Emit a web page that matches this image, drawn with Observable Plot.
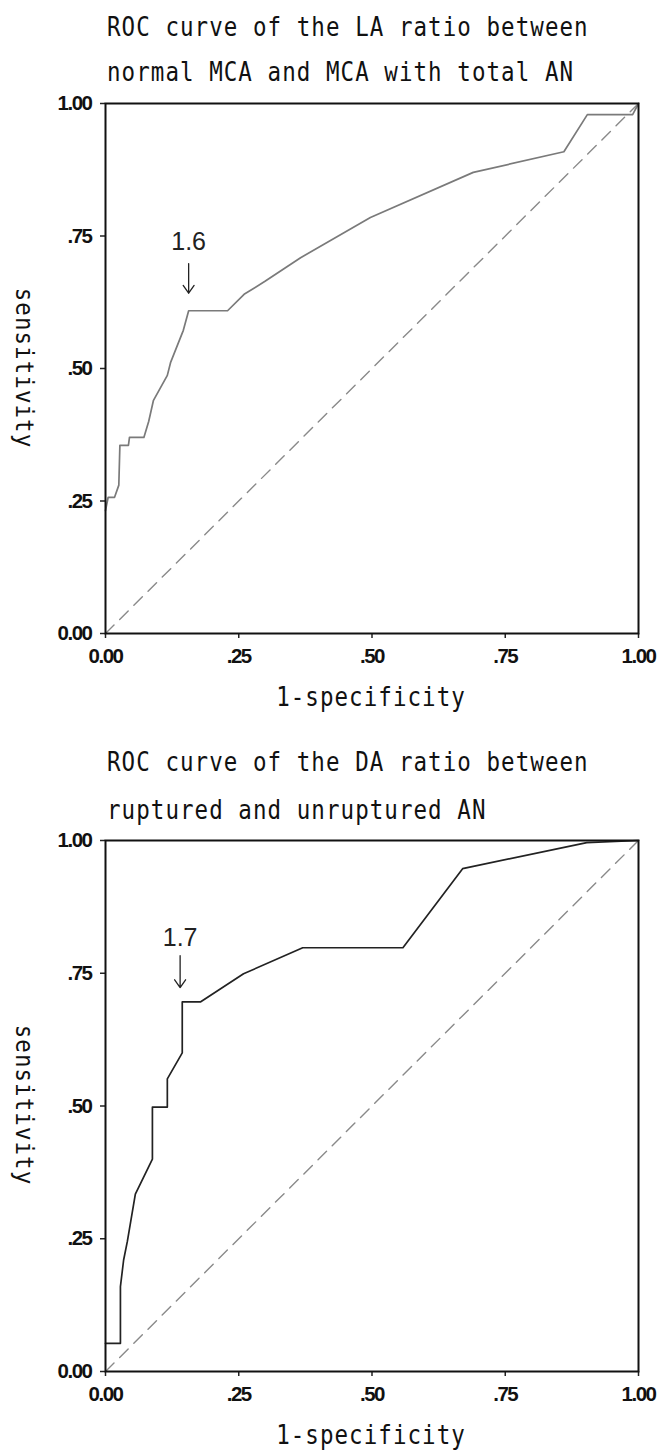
<!DOCTYPE html>
<html><head><meta charset="utf-8">
<script src="https://cdn.jsdelivr.net/npm/d3@7"></script>
<script src="https://cdn.jsdelivr.net/npm/@observablehq/plot@0.6"></script>
<style>
body{margin:0;background:#fff;}
#wrap{position:relative;width:666px;height:1450px;overflow:hidden;background:#fff;}
.t{position:absolute;font-family:"DejaVu Sans Mono",monospace;font-size:22.5px;line-height:22px;letter-spacing:1.05px;color:#111;white-space:nowrap;transform:scaleY(1.15);transform-origin:left center;}
.c{position:absolute;transform:translate(-50%,-50%) scaleY(1.15);transform-origin:center center;}
.r{transform:translate(-50%,-50%) rotate(90deg) scaleY(1.1);transform-origin:center center;}
.chart{position:absolute;left:0;}
</style></head><body><div id="wrap"></div>
<script>
// ---- data ----
const tickValues = [0, 0.25, 0.5, 0.75, 1];
const tickLabels = ["0.00", ".25", ".50", ".75", "1.00"];
const diagX = [0, 1];
const diagY = [0, 1];

// Chart 1: LA ratio
const title1 = ["ROC curve of the LA ratio between", "normal MCA and MCA with total AN"];
const laFpr = [0, 0.005, 0.017, 0.025, 0.027, 0.043, 0.045, 0.072, 0.081, 0.09, 0.116, 0.122, 0.146, 0.156, 0.229, 0.26, 0.30, 0.366, 0.497, 0.69, 0.86, 0.904, 0.989, 1.0];
const laTpr = [0.232, 0.257, 0.257, 0.28, 0.355, 0.355, 0.37, 0.37, 0.40, 0.44, 0.487, 0.511, 0.572, 0.609, 0.609, 0.64, 0.665, 0.709, 0.785, 0.87, 0.909, 0.979, 0.979, 1.0];
const laCut = {label: "1.6", x: 0.156, labelY: 0.738, arrowFrom: 0.698, arrowTo: 0.642};

// Chart 2: DA ratio
const title2 = ["ROC curve of the DA ratio between", "ruptured and unruptured AN"];
const daFpr = [0, 0.028, 0.028, 0.034, 0.041, 0.056, 0.088, 0.088, 0.116, 0.116, 0.144, 0.144, 0.178, 0.259, 0.37, 0.558, 0.67, 0.903, 1.0];
const daTpr = [0.053, 0.053, 0.16, 0.21, 0.245, 0.334, 0.40, 0.498, 0.498, 0.551, 0.60, 0.696, 0.696, 0.749, 0.798, 0.798, 0.947, 0.996, 1.0];
const daCut = {label: "1.7", x: 0.14, labelY: 0.817, arrowFrom: 0.783, arrowTo: 0.723};

const xLabel = "1-specificity";
const yLabel = "sensitivity";

// ---- drawing ----
const wrap = document.getElementById("wrap");
const fmt = d => tickLabels[tickValues.indexOf(d)];

function rocChart(fpr, tpr, stroke, cut, height, marginBottom) {
  const curve = fpr.map((x, i) => ({x, y: tpr[i]}));
  const diag = diagX.map((x, i) => ({x, y: diagY[i]}));
  const svg = Plot.plot({
    width: 666, height,
    marginLeft: 105, marginRight: 28, marginTop: 103, marginBottom,
    x: {domain: [0, 1]},
    y: {domain: [0, 1]},
    style: {fontFamily: "'Liberation Sans', Arial, sans-serif", fontSize: "18px", color: "#222", background: "white", overflow: "visible"},
    marks: [
      Plot.line(diag, {x: "x", y: "y", stroke: "#8a8a8a", strokeWidth: 1.4, strokeDasharray: "12,8"}),
      Plot.line(curve, {x: "x", y: "y", stroke, strokeWidth: 1.7}),
      Plot.axisX({ticks: tickValues, tickFormat: fmt, tickSize: 5, tickPadding: 10, label: null, strokeWidth: 1.5, fill: "#111"}),
      Plot.axisY({ticks: tickValues, tickFormat: fmt, tickSize: 5, tickPadding: 9, label: null, strokeWidth: 1.5, fill: "#111"}),
      Plot.frame({stroke: "#111", strokeWidth: 2}),
      Plot.text([cut], {x: "x", y: "labelY", text: "label", fontSize: 25, fill: "#222"}),
      Plot.arrow([cut], {x1: "x", x2: "x", y1: "arrowFrom", y2: "arrowTo", stroke: "#222", strokeWidth: 1.3, headLength: 11, headAngle: 70})
    ]
  });
  // style the axis tick labels like the reference (heavier, condensed)
  d3.select(svg).selectAll("text").each(function () {
    const g = this.closest("g[aria-label]");
    const lab = g ? g.getAttribute("aria-label") : "";
    if (lab && lab.includes("axis")) {
      d3.select(this).style("font-size", "20.5px").style("font-weight", "bold").style("letter-spacing", "-1.5px");
    } else {
      d3.select(this).style("font-size", "25px");
    }
  });
  return svg;
}

function addText(txt, x, y, cls, center) {
  const d = document.createElement("div");
  d.className = "t " + (cls || "");
  d.textContent = txt;
  d.style.left = x + "px";
  d.style.top = (center ? y : y - 11) + "px";
  wrap.appendChild(d);
}

function addChart(svg, top) {
  svg.classList.add("chart");
  svg.style.position = "absolute";
  svg.style.top = top + "px";
  svg.style.left = "0px";
  wrap.appendChild(svg);
}

addChart(rocChart(laFpr, laTpr, "#7a7a7a", laCut, 720, 87), 0);
addChart(rocChart(daFpr, daTpr, "#222", daCut, 713, 79), 737);

addText(title1[0], 107, 27);
addText(title1[1], 107, 72);
addText(title2[0], 107, 762);
addText(title2[1], 107, 810);
addText(xLabel, 371, 697, "c", true);
addText(xLabel, 371, 1435, "c", true);
addText(yLabel, 25, 368, "c r", true);
addText(yLabel, 25, 1105, "c r", true);
</script></body></html>
